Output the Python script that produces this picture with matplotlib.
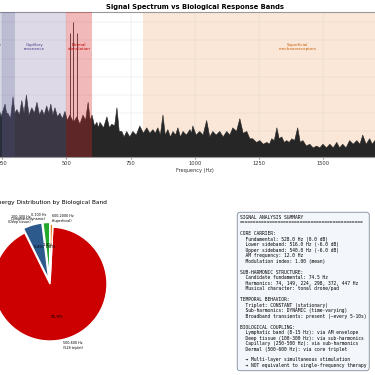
import matplotlib

matplotlib.use("Agg")
import matplotlib.pyplot as plt  # noqa: E402
from matplotlib.transforms import blended_transform_factory  # noqa: E402

W = H = 375  # output size in pixels

# spectrum envelope (Hz, dB)
spec_freq = [240, 246, 262, 268, 273, 283, 293, 300, 308, 318, 327, 336, 345, 355,
             366, 376, 386, 396, 405, 414, 424, 432, 440, 448, 456, 466, 475, 485,
             495, 504, 514, 528, 541, 553, 565, 575, 585, 593, 600, 610, 619, 625,
             631, 645, 658, 668, 677, 688, 697, 706, 716, 725, 735, 747, 759, 772,
             786, 800, 813, 825, 837, 846, 856, 866, 876, 885, 895, 905, 915, 925,
             934, 944, 954, 967, 981, 987, 992, 1005, 1019, 1032, 1046, 1058, 1070,
             1083, 1097, 1110, 1124, 1136, 1148, 1162, 1175, 1188, 1202, 1214, 1225,
             1240, 1253, 1266, 1280, 1290, 1299, 1309, 1319, 1328, 1338, 1348, 1357,
             1367, 1377, 1388, 1400, 1410, 1420, 1434, 1447, 1460, 1474, 1486, 1498,
             1512, 1525, 1538, 1552, 1563, 1575, 1588, 1602, 1616, 1630, 1642, 1653,
             1666, 1680, 1690, 1700, 1712]
spec_db = [-48, -52, -45, -50, -50, -53, -41, -50, -48, -51, -43, -50, -40, -51,
           -47, -50, -44, -51, -48, -51, -46, -50, -45, -51, -47, -52, -50, -53,
           -49, -54, -51, -55, -52, -56, -51, -54, -44, -54, -51, -57, -55, -58,
           -55, -58, -52, -58, -56, -57, -47, -60, -60, -63, -60, -63, -60, -62,
           -57, -61, -58, -61, -59, -61, -58, -62, -51, -62, -59, -63, -60, -62,
           -58, -63, -60, -62, -59, -61, -57, -62, -60, -62, -54, -63, -60,
           -62, -60, -63, -60, -62, -58, -60, -53, -61, -60, -64, -64,
           -66, -65, -67, -66, -67, -64, -65, -58, -64, -63, -66, -65,
           -66, -64, -65, -58, -66, -65, -68, -67, -69, -68, -69, -67,
           -69, -67, -69, -66, -69, -67, -69, -65, -67, -65, -67, -62,
           -67, -64, -67, -65, -66]

# core carrier triplet
carrier_freq = [516, 528, 540]
carrier_db = [-6, 0, -6]

# biological response bands
band_lo = [0, 100, 250, 500, 800]
band_hi = [15, 300, 500, 600, 2000]
band_name = ["Lymphatic", "Deep tissue\nreceptors", "Capillary\nresonance",
             "Dermal\nstimulation", "Superficial\nmechanoreceptors"]

# energy share per band (%)
pie_labels = ["0-100 Hz\n(Lymphatic/dynamic)", "100-300 Hz\n(Deep tissue)",
              "500-600 Hz\n(528 triplet)", "600-2000 Hz\n(Superficial)"]
pie_share = [1.9, 5.4, 91.9, 0.8]

summary = "\n".join([
    "SIGNAL ANALYSIS SUMMARY",
    "=" * 45,
    "",
    "CORE CARRIER:",
    "  Fundamental: 528.0 Hz (0.0 dB)",
    "  Lower sideband: 516.0 Hz (-6.0 dB)",
    "  Upper sideband: 540.0 Hz (-6.0 dB)",
    "  AM frequency: 12.0 Hz",
    "  Modulation index: 1.00 (mean)",
    "",
    "SUB-HARMONIC STRUCTURE:",
    "  Candidate fundamental: 74.5 Hz",
    "  Harmonics: 74, 149, 224, 298, 372, 447 Hz",
    "  Musical character: tonal drone/pad",
    "",
    "TEMPORAL BEHAVIOR:",
    "  Triplet: CONSTANT (stationary)",
    "  Sub-harmonics: DYNAMIC (time-varying)",
    "  Broadband transients: present (~every 5-10s)",
    "",
    "BIOLOGICAL COUPLING:",
    "  Lymphatic band (8-15 Hz): via AM envelope",
    "  Deep tissue (100-300 Hz): via sub-harmonics",
    "  Capillary (250-500 Hz): via sub-harmonics",
    "  Dermal (500-600 Hz): via core triplet",
    "",
    "  \u2192 Multi-layer simultaneous stimulation",
    "  \u2192 NOT equivalent to single-frequency therapy",
])

BAND_COLORS = ["#3aa35a", "#3a4f8a", "#7a6aa0", "#d62728", "#e67e22"]
BAND_ALPHA = [0.15, 0.22, 0.25, 0.32, 0.18]
BAND_ON_TOP = [False, True, True, True, False]
BAND_TEXT = ["#2a7a3a", "#2a3a6a", "#4b3f8a", "#c00000", "#c8600a"]
PIE_COLORS = ["#22a82a", "#2c5a8c", "#cc0000", "#e67e22"]
FLOOR = -74


def px_box(left, top, right, bottom):
    return [left / W, 1 - bottom / H, (right - left) / W, (bottom - top) / H]


fig = plt.figure(figsize=(W / 100, H / 100), dpi=100)

# --- spectrum (the figure is a crop, so the axes spill past the edges) ---
ax = fig.add_axes(px_box(-62.3, 12, 452, 157))
ax.set_xlim(0, 2000)
ax.set_ylim(FLOOR, 5.5)
ax.grid(True, color="#cccccc", lw=0.3, alpha=0.6, zorder=0)
ax.fill_between(spec_freq, FLOOR, spec_db, color="#262626", lw=0, zorder=2)
ax.plot(spec_freq, spec_db, color="#262626", lw=0.4, zorder=2)
ax.vlines(carrier_freq, FLOOR, carrier_db, color="#262626", lw=0.6, zorder=2)

tr = blended_transform_factory(ax.transData, ax.transAxes)
for lo, hi, name, c, a, top, tc in zip(band_lo, band_hi, band_name, BAND_COLORS,
                                        BAND_ALPHA, BAND_ON_TOP, BAND_TEXT):
    ax.axvspan(lo, hi, color=c, alpha=a, lw=0, zorder=3 if top else 1)
    ax.text((lo + hi) / 2, 0.76, name, transform=tr, ha="center", va="center",
            fontsize=2.9, color=tc, zorder=4, linespacing=1.1)

ax.set_xticks(range(0, 2001, 250))
ax.tick_params(labelsize=3.7, length=1.5, width=0.4, pad=1.5, colors="#333333")
ax.set_xlabel("Frequency (Hz)", fontsize=3.6, labelpad=1, color="#333333")
ax.set_ylabel("Magnitude (dB)", fontsize=3.6)
for s in ax.spines.values():
    s.set_color("#999999")
    s.set_linewidth(0.8)
ax.set_title("Signal Spectrum vs Biological Response Bands",
             fontsize=4.9, fontweight="bold", pad=2)

# --- energy pie ---
pax = fig.add_axes(px_box(50 - 71.25, 284 - 71.25, 50 + 71.25, 284 + 71.25))
pax.pie(pie_share, labels=pie_labels, colors=PIE_COLORS, startangle=90,
        explode=[0.08, 0.08, 0, 0.05], autopct="%1.1f%%",
        wedgeprops=dict(edgecolor="white", linewidth=1.0),
        textprops=dict(fontsize=2.4), labeldistance=1.1)
for t in pax.texts:
    if t.get_text().endswith("%"):
        t.set_fontsize(3.0)
pax.set_title("Energy Distribution by Biological Band", fontsize=4.2, pad=6)

# --- summary box ---
fig.text(240 / W, 1 - 215 / H, summary, family="DejaVu Sans Mono",
         fontsize=3.3, ha="left", va="top", linespacing=1.12,
         bbox=dict(boxstyle="round,pad=0.6", facecolor="#f3f6fa",
                   edgecolor="#7f8c99", linewidth=0.6))

fig.savefig("out.png", dpi=100)
